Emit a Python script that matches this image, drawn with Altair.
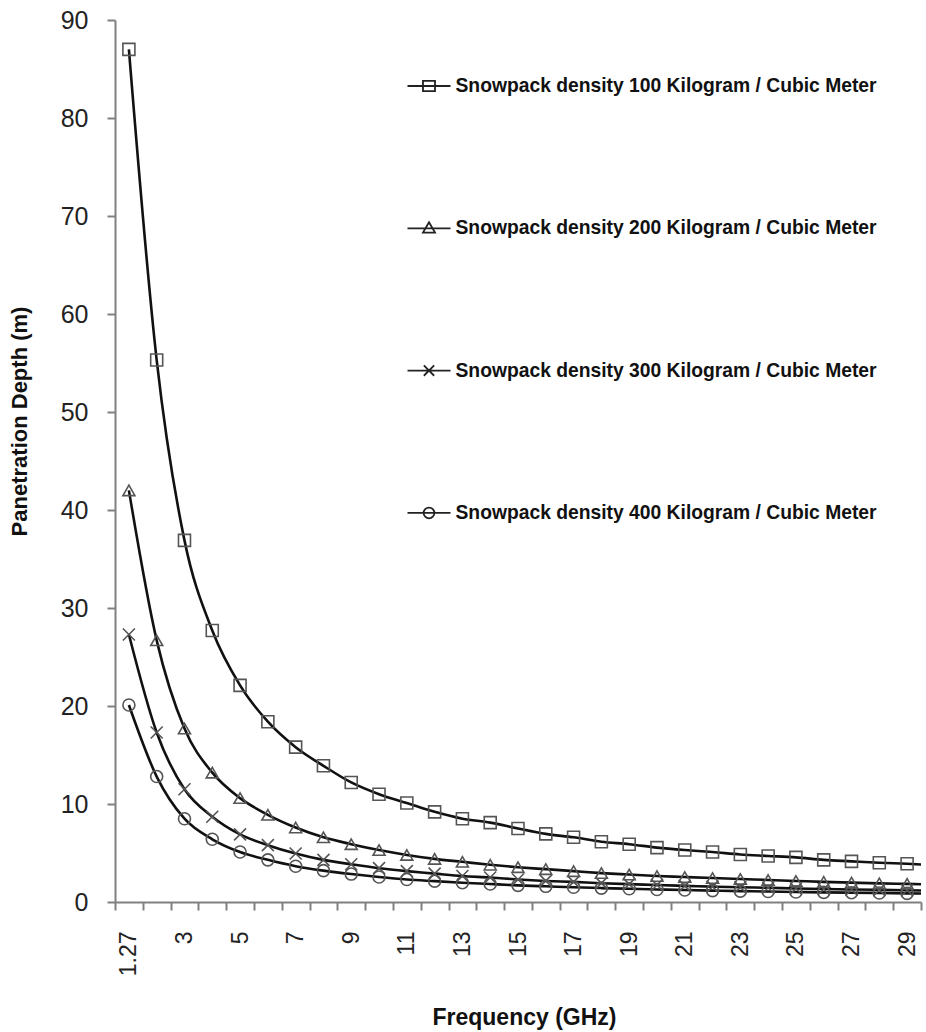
import altair as alt
import pandas as pd
import json

# ---------------- data ----------------
freq_labels = ["1.27", "2", "3", "4", "5", "6", "7", "8", "9", "10",
               "11", "12", "13", "14", "15", "16", "17", "18", "19", "20",
               "21", "22", "23", "24", "25", "26", "27", "28", "29", "30"]

series_names = [
    "Snowpack density 100 Kilogram / Cubic Meter",
    "Snowpack density 200 Kilogram / Cubic Meter",
    "Snowpack density 300 Kilogram / Cubic Meter",
    "Snowpack density 400 Kilogram / Cubic Meter",
]

depth_100 = [87.0, 55.3, 36.9, 27.7, 22.1, 18.4, 15.8, 13.9, 12.2, 11.0,
             10.1, 9.2, 8.5, 8.1, 7.5, 6.95, 6.6, 6.15, 5.9, 5.55,
             5.3, 5.1, 4.85, 4.7, 4.55, 4.3, 4.15, 4.0, 3.9, 3.75]
depth_200 = [42.0, 26.7, 17.7, 13.2, 10.6, 8.9, 7.6, 6.6, 5.9, 5.3,
             4.8, 4.4, 4.1, 3.8, 3.55, 3.35, 3.15, 2.95, 2.8, 2.65,
             2.55, 2.45, 2.35, 2.25, 2.15, 2.05, 1.98, 1.9, 1.85, 1.78]
depth_300 = [27.3, 17.3, 11.5, 8.7, 6.9, 5.8, 4.95, 4.3, 3.85, 3.45,
             3.15, 2.9, 2.65, 2.5, 2.3, 2.15, 2.05, 1.92, 1.82, 1.74,
             1.65, 1.57, 1.5, 1.45, 1.38, 1.33, 1.28, 1.24, 1.2, 1.16]
depth_400 = [20.1, 12.8, 8.5, 6.4, 5.1, 4.3, 3.65, 3.2, 2.85, 2.55,
             2.3, 2.13, 1.97, 1.83, 1.7, 1.6, 1.5, 1.42, 1.35, 1.28,
             1.22, 1.16, 1.11, 1.07, 1.02, 0.98, 0.95, 0.92, 0.88, 0.85]

y_ticks = [0, 10, 20, 30, 40, 50, 60, 70, 80, 90]

# shapes: plot markers and legend symbols (line + marker)
marker_shapes = [
    "square",
    "triangle-up",
    "M-1,-1L1,1M-1,1L1,-1",
    "circle",
]
legend_shapes = [
    "M-1,0H1M-0.28,-0.24H0.28V0.24H-0.28Z",
    "M-1,0H1M0,-0.28L0.28,0.2H-0.28Z",
    "M-1,0H1M-0.24,-0.24L0.24,0.24M-0.24,0.24L0.24,-0.24",
    "M-1,0H1M0.25,0A0.25,0.25 0 1,1 -0.25,0A0.25,0.25 0 1,1 0.25,0",
]

# ---------------- table ----------------
all_series = [depth_100, depth_200, depth_300, depth_400]
rows = []
for name, vals in zip(series_names, all_series):
    for i, (lab, v) in enumerate(zip(freq_labels, vals)):
        rows.append({"idx": i, "freq": lab, "series": name, "depth": v})
df = pd.DataFrame(rows)

n_shown = 29  # categories 1.27 .. 29 visible
FONT = "Liberation Sans"
W, H = 806, 882
band = W / n_shown

label_js = json.dumps(freq_labels[:n_shown]).replace('"', "'")
x_label_expr = (
    f"((datum.value + 0.5) % 2 == 0 && datum.value < {n_shown - 1}) "
    f"? {label_js}[datum.value + 0.5] : ''"
)

x_enc = alt.X(
    "idx:Q",
    scale=alt.Scale(domain=[-0.5, n_shown - 0.5], nice=False, zero=False),
    axis=alt.Axis(
        values=[i - 0.5 for i in range(n_shown + 1)],
        labelExpr=x_label_expr,
        labelAngle=270,
        labelOffset=band / 2,
        labelFlush=False,
        labelOverlap=False,
        labelFont=FONT,
        labelFontSize=23,
        labelColor="#222",
        labelPadding=21,
        tickSize=8,
        tickColor="#808080",
        tickWidth=2,
        domainColor="#808080",
        domainWidth=2,
        grid=False,
        title="Frequency (GHz)",
        titleFont=FONT,
        titleFontSize=23,
        titleFontWeight="bold",
        titleColor="#111",
        titleX=409,
        titleY=115,
        titleAlign="center",
        titleBaseline="middle",
    ),
)

y_enc = alt.Y(
    "depth:Q",
    scale=alt.Scale(domain=[0, 90], nice=False, zero=True),
    axis=alt.Axis(
        values=y_ticks,
        labelFlush=False,
        labelOverlap=False,
        labelFont=FONT,
        labelFontSize=25,
        labelColor="#222",
        labelPadding=19,
        tickSize=8,
        tickColor="#808080",
        tickWidth=2,
        domainColor="#808080",
        domainWidth=2,
        grid=False,
        title="Panetration Depth (m)",
        titleFont=FONT,
        titleFontSize=22,
        titleFontWeight="bold",
        titleColor="#111",
        titleAngle=270,
        titleX=-96,
        titleY=401,
        titleAlign="center",
        titleBaseline="middle",
    ),
)

base = alt.Chart(df)

lines = base.mark_line(
    interpolate="monotone", color="#111", strokeWidth=2.6, clip=True
).encode(x=x_enc, y=y_enc, detail="series:N")

points = base.transform_filter(alt.datum.idx <= n_shown - 1).mark_point(
    filled=False, size=144, strokeWidth=1.6, color="#555", opacity=1
).encode(
    x=x_enc,
    y=y_enc,
    shape=alt.Shape(
        "series:N",
        scale=alt.Scale(domain=series_names, range=marker_shapes),
        legend=None,
    ),
)

legend_layer = base.transform_filter(alt.datum.idx < 0).mark_point(
    filled=False, color="#222", strokeWidth=1.8, opacity=1
).encode(
    x=x_enc,
    y=y_enc,
    shape=alt.Shape(
        "series:N",
        scale=alt.Scale(domain=series_names, range=legend_shapes),
        legend=alt.Legend(
            title=None,
            orient="none",
            legendX=291.5,
            legendY=43.5,
            direction="vertical",
            symbolSize=1849,
            symbolStrokeWidth=1.8,
            symbolStrokeColor="#222",
            symbolFillColor="transparent",
            labelFont=FONT,
            labelFontSize=19.3,
            labelFontWeight="bold",
            labelColor="#111",
            labelLimit=700,
            labelOffset=4,
            rowPadding=109.3,
            padding=0,
        ),
    ),
)

chart = (
    alt.layer(lines, points, legend_layer)
    .resolve_scale(shape="independent")
    .properties(
        width=W,
        height=H,
        padding={"left": 115, "top": 20, "right": 5, "bottom": 130},
        autosize=alt.AutoSizeParams(type="none"),
        background="white",
    )
    .configure_view(stroke=None)
)

chart.save("out.html", embed_options={"renderer": "svg", "actions": False})
